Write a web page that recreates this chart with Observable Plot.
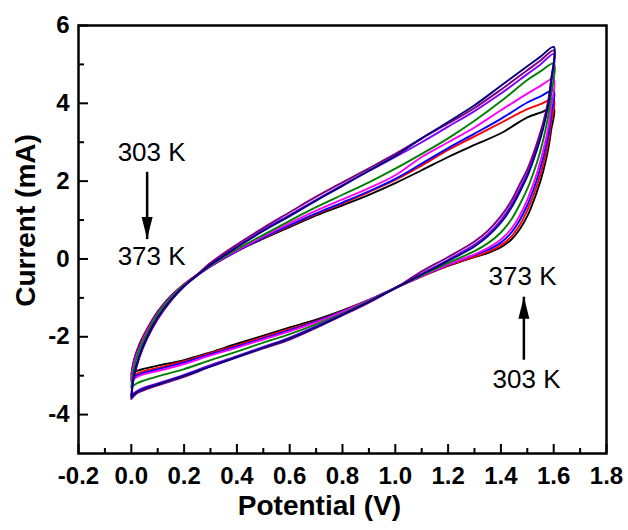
<!DOCTYPE html>
<html>
<head>
<meta charset="utf-8">
<script src="https://cdn.jsdelivr.net/npm/d3@7"></script>
<script src="https://cdn.jsdelivr.net/npm/@observablehq/plot@0.6"></script>
<style>
  html, body { margin: 0; padding: 0; background: #ffffff; }
  #chart svg { font-family: 'Liberation Sans', Arial, Helvetica, sans-serif; }
</style>
</head>
<body>
<div id="chart"></div>
<script>
// ---- Data (potential in V, current in mA) ----
const series = ["303 K", "313 K", "323 K", "333 K", "343 K", "353 K", "363 K", "373 K"];
const seriesColors = ["#000000", "#ff0000", "#0000ff", "#ff00ff", "#008000", "#8000ff", "#800080", "#000080"];

// anodic (forward) sweep potentials, 0 -> 1.6 V
const upperV = [0, 0.01, 0.03, 0.06, 0.1, 0.15, 0.2, 0.25, 0.3, 0.4, 0.5, 0.6, 0.7, 0.8, 0.9, 1.0, 1.1, 1.2, 1.3, 1.4, 1.5, 1.55, 1.6];
// cathodic (reverse) sweep potentials, 1.6 -> 0 V
const lowerV = [1.59, 1.58, 1.56, 1.54, 1.52, 1.5, 1.47, 1.44, 1.4, 1.35, 1.3, 1.2, 1.1, 1.0, 0.9, 0.8, 0.7, 0.6, 0.5, 0.4, 0.3, 0.2, 0.1, 0.05, 0.02, 0];

const up303 = [-2.97, -2.6, -2.2, -1.8, -1.35, -0.95, -0.65, -0.4, -0.18, 0.2, 0.52, 0.82, 1.12, 1.38, 1.65, 1.95, 2.28, 2.62, 2.93, 3.23, 3.64, 3.76, 3.88];
const up313 = [-3.05, -2.62, -2.24, -1.8, -1.36, -0.96, -0.65, -0.41, -0.19, 0.2, 0.54, 0.85, 1.15, 1.43, 1.72, 2.03, 2.4, 2.8, 3.15, 3.5, 3.85, 3.98, 4.1];
const up323 = [-3.1, -2.65, -2.27, -1.83, -1.38, -0.97, -0.66, -0.42, -0.19, 0.2, 0.55, 0.87, 1.17, 1.45, 1.74, 2.06, 2.45, 2.85, 3.22, 3.6, 4.02, 4.18, 4.33];
const up333 = [-3.15, -2.7, -2.3, -1.85, -1.4, -0.98, -0.66, -0.42, -0.18, 0.22, 0.58, 0.92, 1.24, 1.53, 1.82, 2.15, 2.62, 3.0, 3.38, 3.82, 4.25, 4.45, 4.63];
const up343 = [-3.3, -2.8, -2.35, -1.9, -1.42, -1.0, -0.67, -0.42, -0.17, 0.25, 0.62, 0.98, 1.33, 1.65, 1.97, 2.32, 2.7, 3.1, 3.55, 4.05, 4.6, 4.82, 5.02];
const up353 = [-3.5, -2.98, -2.5, -2.0, -1.52, -1.06, -0.7, -0.42, -0.13, 0.32, 0.75, 1.13, 1.52, 1.9, 2.26, 2.62, 3.0, 3.4, 3.8, 4.25, 4.75, 5.0, 5.27];
const up363 = [-3.6, -3.05, -2.55, -2.05, -1.55, -1.08, -0.7, -0.4, -0.1, 0.37, 0.8, 1.2, 1.6, 1.97, 2.33, 2.7, 3.1, 3.48, 3.88, 4.35, 4.85, 5.1, 5.36];
const up373 = [-3.55, -3.0, -2.5, -2.0, -1.5, -1.05, -0.7, -0.42, -0.15, 0.3, 0.72, 1.1, 1.5, 1.88, 2.27, 2.65, 3.1, 3.52, 3.95, 4.45, 4.95, 5.2, 5.45];

const down303 = [3.3, 2.85, 2.25, 1.8, 1.42, 1.1, 0.75, 0.5, 0.3, 0.15, 0.05, -0.18, -0.45, -0.75, -1.05, -1.32, -1.56, -1.76, -1.97, -2.18, -2.4, -2.6, -2.74, -2.82, -2.88, -2.97];
const down313 = [3.5, 3.02, 2.42, 1.96, 1.58, 1.25, 0.86, 0.58, 0.35, 0.18, 0.06, -0.17, -0.45, -0.75, -1.06, -1.34, -1.6, -1.8, -2.01, -2.22, -2.42, -2.63, -2.8, -2.88, -2.95, -3.05];
const down323 = [3.7, 3.2, 2.6, 2.12, 1.72, 1.38, 0.98, 0.68, 0.42, 0.23, 0.1, -0.15, -0.44, -0.74, -1.06, -1.35, -1.61, -1.83, -2.04, -2.25, -2.45, -2.66, -2.84, -2.92, -3.0, -3.1];
const down333 = [3.9, 3.4, 2.78, 2.28, 1.88, 1.52, 1.1, 0.78, 0.5, 0.28, 0.12, -0.14, -0.44, -0.74, -1.06, -1.36, -1.63, -1.86, -2.07, -2.28, -2.48, -2.7, -2.88, -2.96, -3.04, -3.15];
const down343 = [4.2, 3.7, 3.05, 2.55, 2.15, 1.8, 1.38, 1.02, 0.68, 0.4, 0.2, -0.1, -0.42, -0.74, -1.08, -1.4, -1.68, -1.93, -2.15, -2.38, -2.6, -2.83, -3.02, -3.12, -3.2, -3.3];
const down353 = [4.5, 4.0, 3.4, 2.95, 2.55, 2.2, 1.78, 1.4, 1.0, 0.63, 0.37, -0.02, -0.38, -0.74, -1.1, -1.42, -1.73, -2.02, -2.26, -2.5, -2.73, -2.98, -3.2, -3.3, -3.4, -3.5];
const down363 = [4.6, 4.1, 3.5, 3.05, 2.65, 2.3, 1.9, 1.5, 1.1, 0.72, 0.45, 0.05, -0.32, -0.75, -1.12, -1.45, -1.77, -2.07, -2.3, -2.53, -2.77, -3.03, -3.25, -3.37, -3.46, -3.6];
const down373 = [4.55, 4.0, 3.35, 2.88, 2.48, 2.12, 1.7, 1.32, 0.93, 0.58, 0.32, -0.05, -0.4, -0.75, -1.1, -1.43, -1.75, -2.04, -2.28, -2.52, -2.76, -3.0, -3.22, -3.33, -3.43, -3.55];

const upCurrents = [up303, up313, up323, up333, up343, up353, up363, up373];
const downCurrents = [down303, down313, down323, down333, down343, down353, down363, down373];

// axis domains and tick values
const xDomain = [-0.2, 1.8];
const yDomain = [-5, 6];
const xMajor = [-0.2, 0.0, 0.2, 0.4, 0.6, 0.8, 1.0, 1.2, 1.4, 1.6, 1.8];
const xMinor = [-0.1, 0.1, 0.3, 0.5, 0.7, 0.9, 1.1, 1.3, 1.5, 1.7];
const yMajor = [-4, -2, 0, 2, 4, 6];
const yMinor = [-3, -1, 1, 3, 5];

// annotations (data coordinates)
const noteText = ["303 K", "373 K", "373 K", "303 K"];
const noteX = [0.077, 0.077, 1.482, 1.497];
const noteY = [2.74, 0.05, -0.46, -3.10];
const arrowX = [0.06, 1.487];
const arrowFrom = [2.24, -2.59];
const arrowTo = [0.51, -0.97];
const arrowRotate = [0, 180];

// ---- build tables ----
const rows = [];
series.forEach((s, k) => {
  upperV.forEach((v, j) => rows.push({series: s, v, i: upCurrents[k][j]}));
  lowerV.forEach((v, j) => rows.push({series: s, v, i: downCurrents[k][j]}));
});
const notes = noteText.map((t, k) => ({t, x: noteX[k], y: noteY[k]}));
const arrows = arrowX.map((x, k) => ({x, y1: arrowFrom[k], y2: arrowTo[k], r: arrowRotate[k]}));

// filled, elongated arrow head; tip at the symbol origin
const arrowHead = {
  draw(ctx) {
    ctx.moveTo(0, 0);
    ctx.lineTo(-5.5, -22);
    ctx.lineTo(5.5, -22);
    ctx.closePath();
  }
};

const W = 628, H = 530, mL = 78, mR = 22, mT = 25, mB = 77;
const frameW = W - mL - mR, frameH = H - mT - mB;

const chart = Plot.plot({
  width: W,
  height: H,
  marginLeft: mL,
  marginRight: mR,
  marginTop: mT,
  marginBottom: mB,
  x: {domain: xDomain, axis: null},
  y: {domain: yDomain, axis: null},
  color: {domain: series, range: seriesColors},
  marks: [
    // inward major/minor ticks on the bottom and left axes
    Plot.ruleX(xMajor, {x: d => d, insetTop: frameH - 9, stroke: "#000", strokeWidth: 2}),
    Plot.ruleX(xMinor, {x: d => d, insetTop: frameH - 5, stroke: "#000", strokeWidth: 2}),
    Plot.ruleY(yMajor, {y: d => d, insetRight: frameW - 10, stroke: "#000", strokeWidth: 2}),
    Plot.ruleY(yMinor, {y: d => d, insetRight: frameW - 6, stroke: "#000", strokeWidth: 2}),
    Plot.frame({stroke: "#000", strokeWidth: 2.5}),
    // CV loops
    Plot.line(rows, {x: "v", y: "i", z: "series", stroke: "series", strokeWidth: 1.9, curve: "catmull-rom"}),
    // tick labels
    Plot.axisX({ticks: xMajor, tickSize: 0, tickPadding: 13, tickFormat: d => d.toFixed(1), label: null,
      fontSize: 24, fontWeight: "bold", fill: "#000"}),
    Plot.axisY({ticks: yMajor, tickSize: 0, tickPadding: 9, tickFormat: d => String(d), label: null,
      fontSize: 24, fontWeight: "bold", fill: "#000"}),
    // axis titles
    Plot.text(["Potential (V)"], {frameAnchor: "bottom", textAnchor: "middle", lineAnchor: "middle", dy: 53, dx: -23,
      fontSize: 28, fontWeight: "bold", fill: "#000"}),
    Plot.text(["Current (mA)"], {frameAnchor: "left", textAnchor: "middle", lineAnchor: "middle", rotate: -90, dx: -52, dy: -19,
      fontSize: 28, fontWeight: "bold", fill: "#000"}),
    // annotations
    Plot.link(arrows, {x1: "x", x2: "x", y1: "y1", y2: "y2", stroke: "#000", strokeWidth: 2.5}),
    Plot.dot(arrows, {x: "x", y: "y2", symbol: () => arrowHead, rotate: "r", fill: "#000", stroke: "none", r: 1}),
    Plot.text(notes, {x: "x", y: "y", text: "t", fontSize: 26, fill: "#000"})
  ]
});

document.getElementById("chart").appendChild(chart);
</script>
</body>
</html>
